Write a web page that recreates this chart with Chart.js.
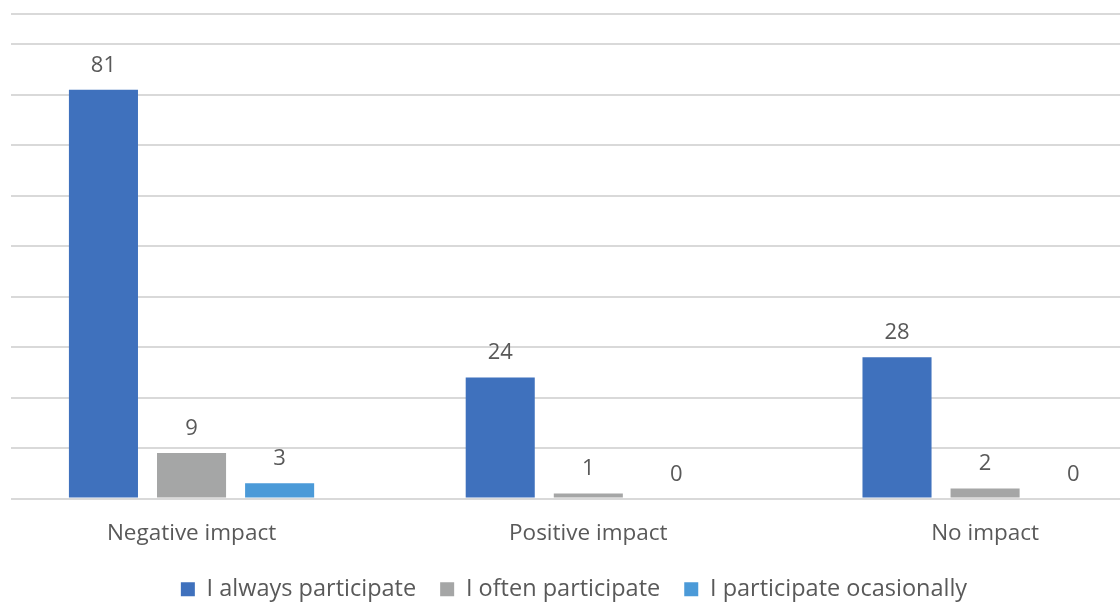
<!DOCTYPE html>
<html>
<head>
<meta charset="utf-8">
<script src="https://cdn.jsdelivr.net/npm/chart.js@4.4.1/dist/chart.umd.min.js"></script>
<style>
  html, body { margin: 0; padding: 0; background: #ffffff; overflow: hidden; }
  #wrap { width: 1120px; height: 602px; position: relative; }
</style>
</head>
<body>
<div id="wrap"><canvas id="chart"></canvas></div>
<script>
// Responses grouped by perceived impact
const categories = ['Negative impact', 'Positive impact', 'No impact'];
const seriesNames = ['I always participate', 'I often participate', 'I participate ocasionally'];
const alwaysValues = [81, 24, 28];
const oftenValues = [9, 1, 2];
const occasionallyValues = [3, 0, 0];
const gridValues = [0, 10, 20, 30, 40, 50, 60, 70, 80, 90, 96];

const seriesColors = ['#3f71bd', '#a5a6a6', '#4b9ad8'];
const textColor = '#595959';
const fontFamily = '"Open Sans", "Noto Sans", sans-serif';

function toPoints(values) {
  return values.map((v, i) => ({ x: i, y: v }));
}

// Value labels above every bar
const valueLabels = {
  id: 'valueLabels',
  afterDatasetsDraw(chart) {
    const ctx = chart.ctx;
    ctx.save();
    ctx.fillStyle = textColor;
    ctx.font = '22px ' + fontFamily;
    ctx.textAlign = 'center';
    ctx.textBaseline = 'alphabetic';
    chart.data.datasets.forEach((ds, di) => {
      const meta = chart.getDatasetMeta(di);
      meta.data.forEach((el, i) => {
        ctx.fillText(String(ds.data[i].y), el.x, el.y - 18);
      });
    });
    ctx.restore();
  }
};

new Chart(document.getElementById('chart'), {
  type: 'bar',
  data: {
    datasets: [
      { label: seriesNames[0], data: toPoints(alwaysValues), backgroundColor: seriesColors[0] },
      { label: seriesNames[1], data: toPoints(oftenValues), backgroundColor: seriesColors[1] },
      { label: seriesNames[2], data: toPoints(occasionallyValues), backgroundColor: seriesColors[2] }
    ]
  },
  options: {
    responsive: true,
    maintainAspectRatio: false,
    animation: false,
    categoryPercentage: 0.666,
    barPercentage: 0.784,
    layout: { padding: { top: 14, left: 11, right: -17, bottom: -9 } },
    plugins: {
      tooltip: { enabled: false },
      legend: {
        position: 'bottom',
        labels: {
          color: textColor,
          font: { family: fontFamily, size: 23.5 },
          boxWidth: 14,
          boxHeight: 14,
          padding: 24
        }
      }
    },
    scales: {
      x: {
        type: 'linear',
        offset: false,
        min: -0.455,
        max: 2.34,
        grid: { display: false },
        border: { display: false },
        afterBuildTicks(scale) {
          scale.ticks = categories.map((c, i) => ({ value: i }));
        },
        afterFit(scale) {
          scale.height = 55;
        },
        ticks: {
          autoSkip: false,
          maxRotation: 0,
          padding: 14,
          color: textColor,
          font: { family: fontFamily, size: 22.5 },
          callback: (v) => categories[v]
        }
      },
      y: {
        min: 0,
        max: 96,
        afterBuildTicks(scale) {
          scale.ticks = gridValues.map(v => ({ value: v }));
        },
        ticks: { display: false },
        border: { display: false },
        grid: { color: '#d9d9d9', lineWidth: 2, drawTicks: false }
      }
    }
  },
  plugins: [valueLabels]
});
</script>
</body>
</html>
